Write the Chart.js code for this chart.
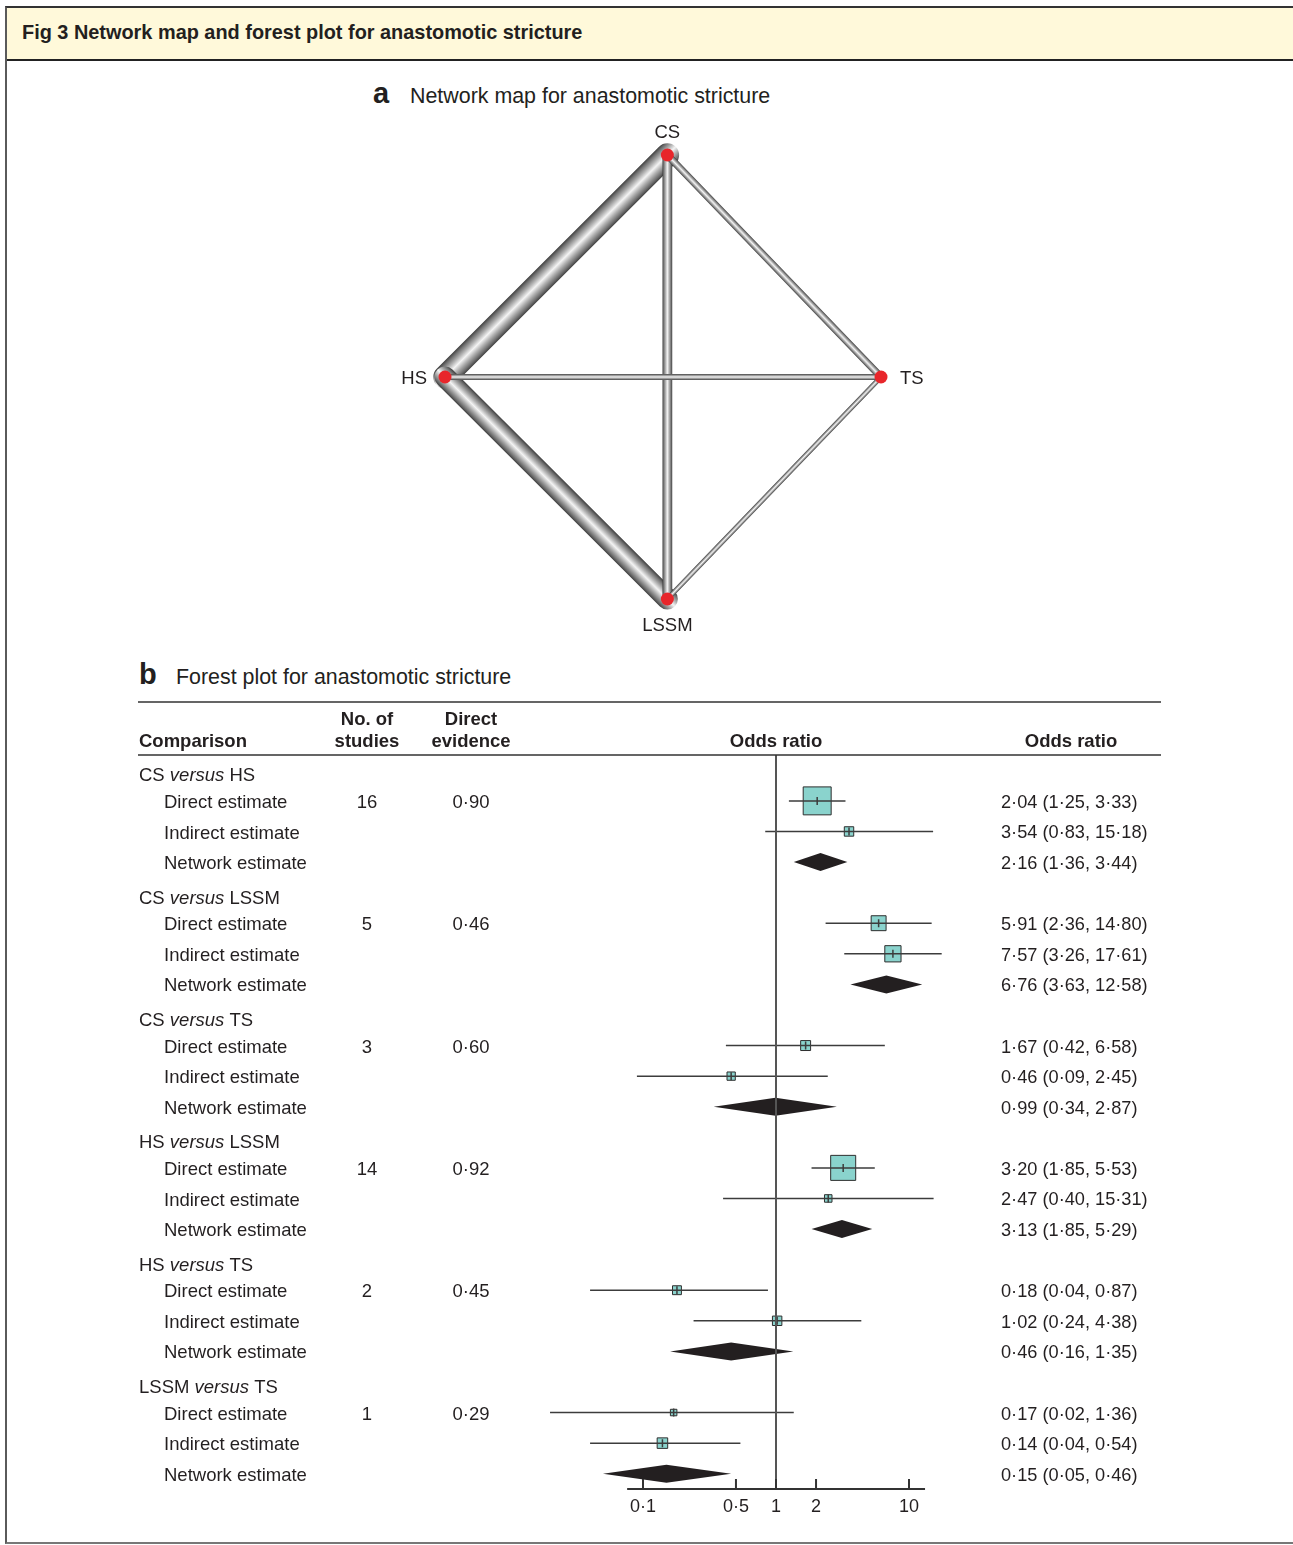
<!DOCTYPE html>
<html>
<head>
<meta charset="utf-8">
<script src="https://cdn.jsdelivr.net/npm/chart.js@4.4.1/dist/chart.umd.min.js"></script>
<style>
  html, body { margin: 0; padding: 0; background: #fff; }
  body { position: relative; width: 1293px; height: 1545px; overflow: hidden;
         font-family: 'Liberation Sans', Arial, Helvetica, sans-serif; color: #231f20; }
  #frame { position: absolute; left: 5px; top: 6px; width: 1400px; height: 1534px;
           border-top: 2px solid #333; border-left: 2px solid #5a5a5a; border-bottom: 2px solid #777; }
  #head { position: absolute; left: 0; top: 0; width: 1400px; height: 51px; background: #fff9da;
          border-bottom: 2px solid #222; font-weight: bold; font-size: 19.9px; line-height: 48px; padding-left: 15px; }
  .lbl { position: absolute; white-space: nowrap; line-height: 30px; }
  .big { font-weight: bold; font-size: 29px; }
  .ttl { font-size: 21.4px; }
  canvas { position: absolute; left: 0; }
</style>
</head>
<body>
<div id="frame"><div id="head">Fig 3 Network map and forest plot for anastomotic stricture</div></div>
<div class="lbl big" style="left:373px; top:78px;">a</div>
<div class="lbl ttl" style="left:410px; top:81px;">Network map for anastomotic stricture</div>
<div class="lbl big" style="left:139px; top:659px;">b</div>
<div class="lbl ttl" style="left:176px; top:662px;">Forest plot for anastomotic stricture</div>
<canvas id="mapChart" width="1293" height="564" style="top:95px;"></canvas>
<canvas id="forestChart" width="1293" height="840" style="top:690px;"></canvas>
<script>
// network nodes
const nodeNames = ['CS', 'HS', 'TS', 'LSSM'];
const nodeX = [0.02, -1, 1, 0.02];
const nodeY = [1, 0, 0, -1];

// comparisons (also the network edges)
const compA = ['CS', 'CS', 'CS', 'HS', 'HS', 'LSSM'];
const compB = ['HS', 'LSSM', 'TS', 'LSSM', 'TS', 'TS'];
const nStudies = [16, 5, 3, 14, 2, 1];
const directEvidence = [0.90, 0.46, 0.60, 0.92, 0.45, 0.29];

const directOR = [2.04, 5.91, 1.67, 3.20, 0.18, 0.17];
const directLo = [1.25, 2.36, 0.42, 1.85, 0.04, 0.02];
const directHi = [3.33, 14.80, 6.58, 5.53, 0.87, 1.36];

const indirectOR = [3.54, 7.57, 0.46, 2.47, 1.02, 0.14];
const indirectLo = [0.83, 3.26, 0.09, 0.40, 0.24, 0.04];
const indirectHi = [15.18, 17.61, 2.45, 15.31, 4.38, 0.54];

const networkOR = [2.16, 6.76, 0.99, 3.13, 0.46, 0.15];
const networkLo = [1.36, 3.63, 0.34, 1.85, 0.16, 0.05];
const networkHi = [3.44, 12.58, 2.87, 5.29, 1.35, 0.46];

const rowLabels = ['Direct estimate', 'Indirect estimate', 'Network estimate'];
const xTicks = [0.1, 0.5, 1, 2, 10];
const axisMin = 0.076, axisMax = 13.2;

const FONT = "'Liberation Sans', Arial, sans-serif";
const INK = '#231f20';

function fmt(v) {
  return v.toFixed(2).replace('.', '\u00b7');
}

// ---------- a: network map ----------
function nodeIndex(name) { return nodeNames.indexOf(name); }

function edgeGradient(c, i, w) {
  const chart = c.chart;
  const xs = chart.scales.x, ys = chart.scales.y;
  if (!chart.chartArea || !xs || !ys) return '#999';
  const a = nodeIndex(compA[i]), b = nodeIndex(compB[i]);
  const x1 = xs.getPixelForValue(nodeX[a]), y1 = ys.getPixelForValue(nodeY[a]);
  const x2 = xs.getPixelForValue(nodeX[b]), y2 = ys.getPixelForValue(nodeY[b]);
  const len = Math.hypot(x2 - x1, y2 - y1);
  const nx = -(y2 - y1) / len, ny = (x2 - x1) / len;
  const mx = (x1 + x2) / 2, my = (y1 + y2) / 2, h = w / 2;
  const g = chart.ctx.createLinearGradient(mx - nx * h, my - ny * h, mx + nx * h, my + ny * h);
  g.addColorStop(0, '#3e3e3e');
  g.addColorStop(0.12, '#707070');
  g.addColorStop(0.32, '#b4b4b4');
  g.addColorStop(0.5, '#f4f4f4');
  g.addColorStop(0.68, '#b4b4b4');
  g.addColorStop(0.88, '#707070');
  g.addColorStop(1, '#3e3e3e');
  return g;
}

const edgeSets = compA.map((name, i) => {
  const a = nodeIndex(compA[i]), b = nodeIndex(compB[i]);
  const w = 3.5 + 1.25 * nStudies[i];
  return {
    type: 'line',
    data: [{ x: nodeX[a], y: nodeY[a] }, { x: nodeX[b], y: nodeY[b] }],
    borderWidth: w,
    borderColor: c => edgeGradient(c, i, w),
    borderCapStyle: 'round',
    pointRadius: 0,
    fill: false,
    clip: false,
    order: nStudies[i]
  };
});

const nodeSet = {
  type: 'scatter',
  data: nodeNames.map((n, i) => ({ x: nodeX[i], y: nodeY[i] })),
  pointRadius: 6.5,
  backgroundColor: '#e8262b',
  borderWidth: 0,
  clip: false,
  order: -1
};

const mapLabels = {
  id: 'mapLabels',
  afterDatasetsDraw(chart) {
    const ctx = chart.ctx, xs = chart.scales.x, ys = chart.scales.y;
    ctx.save();
    ctx.font = '18.5px ' + FONT;
    ctx.fillStyle = INK;
    ctx.textBaseline = 'middle';
    nodeNames.forEach((n, i) => {
      let x = xs.getPixelForValue(nodeX[i]), y = ys.getPixelForValue(nodeY[i]) + 2;
      ctx.textAlign = 'center';
      if (nodeY[i] > 0) y -= 24;
      else if (nodeY[i] < 0) y += 25;
      else if (nodeX[i] < 0) { ctx.textAlign = 'right'; x -= 18; }
      else { ctx.textAlign = 'left'; x += 19; }
      ctx.fillText(n, x, y);
    });
    ctx.restore();
  }
};

new Chart(document.getElementById('mapChart'), {
  type: 'scatter',
  data: { datasets: [nodeSet].concat(edgeSets) },
  options: {
    responsive: false,
    animation: false,
    events: [],
    layout: { padding: { left: 445, right: 412, top: 60, bottom: 60 } },
    scales: {
      x: { type: 'linear', min: -1, max: 1, display: false },
      y: { type: 'linear', min: -1, max: 1, display: false }
    },
    plugins: { legend: { display: false }, tooltip: { enabled: false } }
  },
  plugins: [mapLabels]
});

// ---------- b: forest plot ----------
// rows: group header 4g, direct 4g+1, indirect 4g+2, network 4g+3
const squarePts = [];
const squareSide = [];
compA.forEach((n, g) => {
  squarePts.push({ x: directOR[g], y: 4 * g + 1 });
  squareSide.push(27.4 / Math.log(directHi[g] / directLo[g]));
  squarePts.push({ x: indirectOR[g], y: 4 * g + 2 });
  squareSide.push(27.4 / Math.log(indirectHi[g] / indirectLo[g]));
});

const forestDecor = {
  id: 'forestDecor',
  afterDatasetsDraw(chart) {
    const ctx = chart.ctx, xs = chart.scales.x, ys = chart.scales.y, a = chart.chartArea;
    const px = v => xs.getPixelForValue(v);
    ctx.save();
    // network estimate diamonds
    ctx.fillStyle = INK;
    compA.forEach((n, g) => {
      const y = ys.getPixelForValue(4 * g + 3);
      ctx.beginPath();
      ctx.moveTo(px(networkLo[g]), y);
      ctx.lineTo(px(networkOR[g]), y - 9);
      ctx.lineTo(px(networkHi[g]), y);
      ctx.lineTo(px(networkOR[g]), y + 9);
      ctx.closePath();
      ctx.fill();
    });
    // confidence intervals + estimate ticks
    ctx.strokeStyle = '#3c3c3c';
    ctx.lineWidth = 1.5;
    compA.forEach((n, g) => {
      [[directOR, directLo, directHi, 1], [indirectOR, indirectLo, indirectHi, 2]].forEach(s => {
        const y = ys.getPixelForValue(4 * g + s[3]);
        ctx.beginPath();
        ctx.moveTo(px(s[1][g]), y);
        ctx.lineTo(px(s[2][g]), y);
        ctx.moveTo(px(s[0][g]), y - 4);
        ctx.lineTo(px(s[0][g]), y + 4);
        ctx.stroke();
      });
    });
    // line of no effect
    ctx.strokeStyle = '#555';
    ctx.lineWidth = 2;
    ctx.beginPath();
    ctx.moveTo(px(1), a.top);
    ctx.lineTo(px(1), a.bottom);
    ctx.stroke();
    // x axis
    ctx.strokeStyle = '#333';
    ctx.beginPath();
    ctx.moveTo(px(axisMin), a.bottom);
    ctx.lineTo(px(axisMax), a.bottom);
    xTicks.forEach(t => {
      ctx.moveTo(px(t), a.bottom);
      ctx.lineTo(px(t), a.bottom - 10);
    });
    ctx.stroke();
    ctx.fillStyle = INK;
    ctx.font = '18px ' + FONT;
    ctx.textAlign = 'center';
    ctx.textBaseline = 'middle';
    xTicks.forEach(t => {
      ctx.fillText(String(t).replace('.', '\u00b7'), px(t), a.bottom + 18);
    });
    ctx.restore();
  },
  afterDraw(chart) {
    const ctx = chart.ctx, xs = chart.scales.x, ys = chart.scales.y, a = chart.chartArea;
    ctx.save();
    // rules
    ctx.strokeStyle = '#333';
    ctx.lineWidth = 1.5;
    ctx.beginPath();
    ctx.moveTo(138, 12); ctx.lineTo(1161, 12);
    ctx.moveTo(138, a.top); ctx.lineTo(1161, a.top);
    ctx.stroke();
    // column headers
    ctx.fillStyle = INK;
    ctx.textBaseline = 'middle';
    ctx.font = 'bold 18.5px ' + FONT;
    ctx.textAlign = 'left';
    ctx.fillText('Comparison', 139, 52);
    ctx.textAlign = 'center';
    ctx.fillText('No. of', 367, 30);
    ctx.fillText('studies', 367, 52);
    ctx.fillText('Direct', 471, 30);
    ctx.fillText('evidence', 471, 52);
    ctx.fillText('Odds ratio', xs.getPixelForValue(1), 52);
    ctx.fillText('Odds ratio', 1071, 52);
    // rows
    const reg = '18.5px ' + FONT, ita = 'italic 18.5px ' + FONT, orf = '18.2px ' + FONT;
    compA.forEach((n, g) => {
      let y = ys.getPixelForValue(4 * g) + 6;
      let x = 139;
      ctx.textAlign = 'left';
      ctx.font = reg;
      ctx.fillText(compA[g] + ' ', x, y);
      x += ctx.measureText(compA[g] + ' ').width;
      ctx.font = ita;
      ctx.fillText('versus', x, y);
      x += ctx.measureText('versus').width;
      ctx.font = reg;
      ctx.fillText(' ' + compB[g], x, y);

      const ors = [[directOR, directLo, directHi], [indirectOR, indirectLo, indirectHi], [networkOR, networkLo, networkHi]];
      rowLabels.forEach((lab, k) => {
        y = ys.getPixelForValue(4 * g + 1 + k) + 2;
        ctx.textAlign = 'left';
        ctx.font = reg;
        ctx.fillText(lab, 164, y);
        const s = ors[k];
        ctx.font = orf;
        ctx.fillText(fmt(s[0][g]) + ' (' + fmt(s[1][g]) + ', ' + fmt(s[2][g]) + ')', 1001, y);
        if (k === 0) {
          ctx.font = reg;
          ctx.textAlign = 'center';
          ctx.fillText(String(nStudies[g]), 367, y);
          ctx.fillText(fmt(directEvidence[g]), 471, y);
        }
      });
    });
    ctx.restore();
  }
};

new Chart(document.getElementById('forestChart'), {
  type: 'scatter',
  data: {
    datasets: [{
      data: squarePts,
      pointStyle: 'rect',
      pointRadius: c => squareSide[c.dataIndex] / Math.SQRT2,
      backgroundColor: '#8ad3cd',
      borderColor: '#2e2e2e',
      borderWidth: 1
    }]
  },
  options: {
    responsive: false,
    animation: false,
    events: [],
    layout: { padding: { left: 510, right: 251, top: 65, bottom: 41 } },
    scales: {
      x: { type: 'logarithmic', min: 0.01, max: 100, display: false },
      y: { type: 'linear', min: -0.5, max: 23.5, reverse: true, display: false }
    },
    plugins: { legend: { display: false }, tooltip: { enabled: false } }
  },
  plugins: [forestDecor]
});
</script>
</body>
</html>
